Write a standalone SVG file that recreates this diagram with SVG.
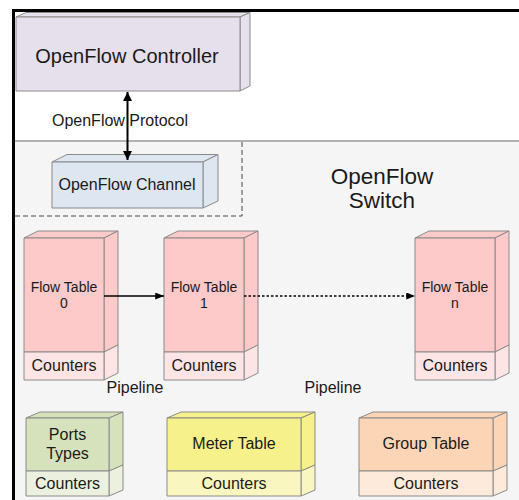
<svg xmlns="http://www.w3.org/2000/svg" width="519" height="500" viewBox="0 0 519 500">
  <defs>
    <marker id="arrowBig" viewBox="0 0 10 10" refX="10" refY="5" markerWidth="9" markerHeight="9" markerUnits="userSpaceOnUse" orient="auto-start-reverse">
      <path d="M0,0 L10,5 L0,10 z" fill="#000"/>
    </marker>
    <marker id="arrowSmall" viewBox="0 0 10 8" refX="10" refY="4" markerWidth="9" markerHeight="7" markerUnits="userSpaceOnUse" orient="auto">
      <path d="M0,0 L10,4 L0,8 z" fill="#000"/>
    </marker>
    <style>
      text { font-family: "Liberation Sans", Arial, sans-serif; fill: #1a1a1a; text-anchor: middle; }
      .edge { stroke: #8a8a8a; stroke-width: 1; stroke-linejoin: round; }
      .ctl { fill: #e6e0ec; }
      .chn { fill: #dde6f1; }
      .ft { fill: #fdc9c9; }
      .ftc { fill: #fde5e5; }
      .pt { fill: #d6e2bb; }
      .ptc { fill: #ebf1de; }
      .mt { fill: #f6f18a; }
      .mtc { fill: #faf6c0; }
      .gt { fill: #fbd5b6; }
      .gtc { fill: #fdeadb; }
      .t22 { font-size: 22.5px; }
      .t20 { font-size: 20px; }
      .t16 { font-size: 16px; }
      .t14 { font-size: 14px; }
    </style>
  </defs>

  <!-- page background -->
  <rect x="0" y="0" width="519" height="500" fill="#ffffff"/>

  <!-- switch area -->
  <rect x="15" y="141" width="504" height="359" fill="#f5f5f5"/>
  <line x1="15" y1="141" x2="519" y2="141" stroke="#9a9a9a" stroke-width="1.5"/>
  <path d="M15,216 H242 V141" fill="none" stroke="#444" stroke-width="1" stroke-dasharray="5,3"/>

  <!-- outer frame -->
  <line x1="12" y1="10.5" x2="519" y2="10.5" stroke="#000" stroke-width="3"/>
  <line x1="13.5" y1="9" x2="13.5" y2="500" stroke="#000" stroke-width="3"/>

  <g id="controller">
    <path class="ctl edge" d="M16,17 L26,12.5 L250,12.5 L240,17 Z"/>
    <path class="ctl edge" d="M240,17 L250,12.5 L250,86 L240,91 Z"/>
    <rect class="ctl edge" x="16" y="17" width="224" height="74"/>
    <text class="t20" x="127" y="63">OpenFlow Controller</text>
  </g>

  <g id="protocol-label">
    <text class="t16" x="120" y="126">OpenFlow Protocol</text>
  </g>

  <g id="channel">
    <path class="chn edge" d="M52,162 L67,154.5 L218,154.5 L203,162 Z"/>
    <path class="chn edge" d="M203,162 L218,154.5 L218,201 L203,208 Z"/>
    <rect class="chn edge" x="52" y="162" width="151" height="46"/>
    <text class="t16" x="127" y="190">OpenFlow Channel</text>
  </g>

  <g id="switch-label">
    <text class="t22" x="382" y="184">OpenFlow</text>
    <text class="t22" x="382" y="208">Switch</text>
  </g>

  <g id="flow-table-0">
    <path class="ft edge" d="M24,238 L38,231 L118,231 L104,238 Z"/>
    <path class="ft edge" d="M104,238 L118,231 L118,345 L104,352 Z"/>
    <path class="ftc edge" d="M104,352 L118,345 L118,373 L104,380 Z"/>
    <rect class="ft edge" x="24" y="238" width="80" height="114"/>
    <rect class="ftc edge" x="24" y="352" width="80" height="28"/>
    <text class="t14" x="64" y="292">Flow Table</text>
    <text class="t14" x="64" y="308">0</text>
    <text class="t16" x="64" y="371">Counters</text>
  </g>

  <g id="flow-table-1">
    <path class="ft edge" d="M164,238 L178,231 L258,231 L244,238 Z"/>
    <path class="ft edge" d="M244,238 L258,231 L258,345 L244,352 Z"/>
    <path class="ftc edge" d="M244,352 L258,345 L258,373 L244,380 Z"/>
    <rect class="ft edge" x="164" y="238" width="80" height="114"/>
    <rect class="ftc edge" x="164" y="352" width="80" height="28"/>
    <text class="t14" x="204" y="292">Flow Table</text>
    <text class="t14" x="204" y="308">1</text>
    <text class="t16" x="204" y="371">Counters</text>
  </g>

  <g id="flow-table-n">
    <path class="ft edge" d="M415,238 L429,231 L509,231 L495,238 Z"/>
    <path class="ft edge" d="M495,238 L509,231 L509,345 L495,352 Z"/>
    <path class="ftc edge" d="M495,352 L509,345 L509,373 L495,380 Z"/>
    <rect class="ft edge" x="415" y="238" width="80" height="114"/>
    <rect class="ftc edge" x="415" y="352" width="80" height="28"/>
    <text class="t14" x="455" y="292">Flow Table</text>
    <text class="t14" x="455" y="308">n</text>
    <text class="t16" x="455" y="371">Counters</text>
  </g>

  <g id="pipeline-labels">
    <text class="t16" x="135" y="393">Pipeline</text>
    <text class="t16" x="333" y="393">Pipeline</text>
  </g>

  <g id="ports-types">
    <path class="pt edge" d="M26,418 L40,412 L123,412 L109,418 Z"/>
    <path class="pt edge" d="M109,418 L123,412 L123,465 L109,471 Z"/>
    <path class="ptc edge" d="M109,471 L123,465 L123,490 L109,496 Z"/>
    <rect class="pt edge" x="26" y="418" width="83" height="53"/>
    <rect class="ptc edge" x="26" y="471" width="83" height="25"/>
    <text class="t16" x="67.5" y="440">Ports</text>
    <text class="t16" x="67.5" y="459">Types</text>
    <text class="t16" x="67.5" y="489">Counters</text>
  </g>

  <g id="meter-table">
    <path class="mt edge" d="M167,418 L181,412 L315,412 L301,418 Z"/>
    <path class="mt edge" d="M301,418 L315,412 L315,465 L301,471 Z"/>
    <path class="mtc edge" d="M301,471 L315,465 L315,490 L301,496 Z"/>
    <rect class="mt edge" x="167" y="418" width="134" height="53"/>
    <rect class="mtc edge" x="167" y="471" width="134" height="25"/>
    <text class="t16" x="234" y="449">Meter Table</text>
    <text class="t16" x="234" y="489">Counters</text>
  </g>

  <g id="group-table">
    <path class="gt edge" d="M359,418 L373,412 L507,412 L493,418 Z"/>
    <path class="gt edge" d="M493,418 L507,412 L507,465 L493,471 Z"/>
    <path class="gtc edge" d="M493,471 L507,465 L507,490 L493,496 Z"/>
    <rect class="gt edge" x="359" y="418" width="134" height="53"/>
    <rect class="gtc edge" x="359" y="471" width="134" height="25"/>
    <text class="t16" x="426" y="449">Group Table</text>
    <text class="t16" x="426" y="489">Counters</text>
  </g>

  <g id="connectors">
    <line x1="127.5" y1="92" x2="127.5" y2="160" stroke="#000" stroke-width="2" marker-start="url(#arrowBig)" marker-end="url(#arrowBig)"/>
    <line x1="104" y1="296" x2="164" y2="296" stroke="#000" stroke-width="1.3" marker-end="url(#arrowSmall)"/>
    <line x1="244" y1="296" x2="415" y2="296" stroke="#000" stroke-width="1.3" stroke-dasharray="2.5,2" marker-end="url(#arrowSmall)"/>
  </g>
</svg>
